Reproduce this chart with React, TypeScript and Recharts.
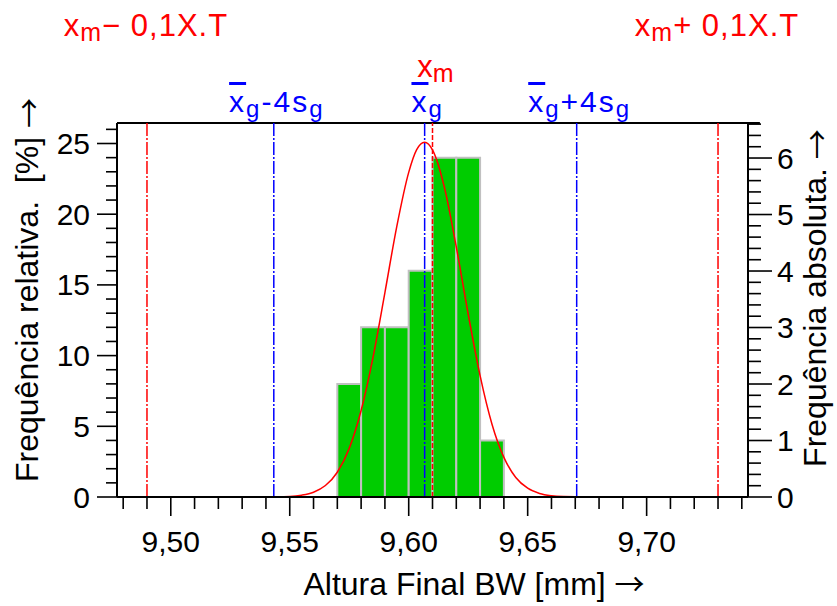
import React from 'react';
import { ComposedChart, Line, XAxis, YAxis, ReferenceArea, ReferenceLine } from 'recharts';

// ---- data ----
const binEdges = [9.57, 9.58, 9.59, 9.6, 9.61, 9.62, 9.63, 9.64];
const relFreq = [8, 12, 12, 16, 24, 24, 4]; // %
const absFreq = [2, 3, 3, 4, 6, 6, 1];

const curveX = [9.4774, 9.54, 9.55, 9.555, 9.56, 9.565, 9.57, 9.575, 9.58, 9.585, 9.59, 9.595, 9.6, 9.6033, 9.6067, 9.61, 9.615, 9.62, 9.625, 9.63, 9.635, 9.64, 9.645, 9.65, 9.655, 9.66, 9.665, 9.675, 9.7426];
const curveY = [0, 0, 0.04, 0.13, 0.34, 0.81, 1.75, 3.44, 6.12, 9.88, 14.46, 19.14, 22.96, 24.55, 25.09, 24.55, 21.9, 17.68, 12.94, 8.58, 5.15, 2.8, 1.38, 0.62, 0.25, 0.09, 0.03, 0, 0];

const xTicks = [9.48, 9.49, 9.5, 9.51, 9.52, 9.53, 9.54, 9.55, 9.56, 9.57, 9.58, 9.59, 9.6, 9.61, 9.62, 9.63, 9.64, 9.65, 9.66, 9.67, 9.68, 9.69, 9.7, 9.71, 9.72, 9.73, 9.74];
const xMajor = [9.5, 9.55, 9.6, 9.65, 9.7];
const leftTicks = [0, 1, 2, 3, 4, 5, 6, 7, 8, 9, 10, 11, 12, 13, 14, 15, 16, 17, 18, 19, 20, 21, 22, 23, 24, 25, 26];
const leftMajor = [0, 5, 10, 15, 20, 25];
const rightTicks = [0, 0.2, 0.4, 0.6, 0.8, 1, 1.2, 1.4, 1.6, 1.8, 2, 2.2, 2.4, 2.6, 2.8, 3, 3.2, 3.4, 3.6, 3.8, 4, 4.2, 4.4, 4.6, 4.8, 5, 5.2, 5.4, 5.6, 5.8, 6, 6.2, 6.4, 6.6];
const rightMajor = [0, 1, 2, 3, 4, 5, 6];

const tolLow = 9.49;
const xm = 9.61;
const tolHigh = 9.73;
const xgMinus4s = 9.5433;
const xg = 9.6067;
const xgPlus4s = 9.6706;

const X_MIN = 9.4774;
const X_MAX = 9.7426;
const Y_LEFT_MAX = 26.45;
const Y_RIGHT_MAX = 6.62;

// ---- styles ----
const FONT = '"Liberation Sans", Arial, sans-serif';
const ARROW_FONT = '"Noto Sans CJK JP", "Noto Sans CJK SC", sans-serif';
const RED = '#ff0000';
const BLUE = '#0000ff';
const GREEN = '#00cc00';
const FS = 30;
const TITLE_FS = 32;
const DASH = '13 2 2 2';

const isIn = (arr: number[], v: number) => arr.some((a) => Math.abs(a - v) < 1e-6);

const XTick = (props: any) => {
  const { x, y, payload } = props;
  const v = payload.value;
  const major = isIn(xMajor, v);
  return (
    <g>
      <line x1={x} x2={x} y1={y} y2={y + (major ? 19 : 12)} stroke="#000" strokeWidth={1.6} />
      {major && (
        <text x={x} y={y + 55} textAnchor="middle" fontSize={FS} fontFamily={FONT} fill="#000">
          {v.toFixed(2).replace('.', ',')}
        </text>
      )}
    </g>
  );
};

const LeftTick = (props: any) => {
  const { x, y, payload } = props;
  const v = payload.value;
  const major = isIn(leftMajor, v);
  return (
    <g>
      <line x1={x} x2={x - (major ? 20 : 11)} y1={y} y2={y} stroke="#000" strokeWidth={1.6} />
      {major && (
        <text x={x - 27} y={y} textAnchor="end" dominantBaseline="central" fontSize={FS} fontFamily={FONT} fill="#000">
          {String(v)}
        </text>
      )}
    </g>
  );
};

const RightTick = (props: any) => {
  const { x, y, payload } = props;
  const v = payload.value;
  const major = isIn(rightMajor, v);
  return (
    <g>
      <line x1={x} x2={x + (major ? 24 : 13)} y1={y} y2={y} stroke="#000" strokeWidth={1.6} />
      {major && (
        <text x={x + 29} y={y} textAnchor="start" dominantBaseline="central" fontSize={FS} fontFamily={FONT} fill="#000">
          {String(v)}
        </text>
      )}
    </g>
  );
};

const tolLabel = (sign: string) => (p: any) => {
  const vb = p.viewBox;
  return (
    <text x={vb.x - 1} y={vb.y - 87} textAnchor="middle" fill={RED} fontSize={31} letterSpacing={1} fontFamily={FONT}>
      <tspan>x</tspan>
      <tspan fontSize={25} dy={5}>m</tspan>
      <tspan dy={-5}>{sign + ' 0,1X.T'}</tspan>
    </text>
  );
};

const xmLabel = (p: any) => {
  const vb = p.viewBox;
  return (
    <text x={vb.x + 3} y={vb.y - 46} textAnchor="middle" fill={RED} fontSize={31} fontFamily={FONT}>
      <tspan>x</tspan>
      <tspan fontSize={25} dy={5}>m</tspan>
    </text>
  );
};

const gLabel = (mid: string) => (p: any) => {
  const vb = p.viewBox;
  return (
    <text x={vb.x + 3} y={vb.y - 11} textAnchor="middle" fill={BLUE} fontSize={30} letterSpacing={2} fontFamily={FONT}>
      <tspan style={{ textDecoration: 'overline' }}>x</tspan>
      <tspan fontSize={24} dy={5}>g</tspan>
      {mid ? <tspan dy={-5}>{mid}</tspan> : null}
      {mid ? <tspan fontSize={24} dy={5}>g</tspan> : null}
    </text>
  );
};

const curveData = curveX.map((x, i) => ({ x, pct: curveY[i] }));

export default function App() {
  return (
    <div style={{ position: 'absolute', left: 0, top: 0, width: 837, height: 606, background: '#fff' }}>
      <ComposedChart width={837} height={606} data={curveData} margin={{ top: 123, right: 29, bottom: 49, left: 17 }}>
        <XAxis
          dataKey="x"
          type="number"
          domain={[X_MIN, X_MAX]}
          allowDataOverflow
          ticks={xTicks}
          interval={0}
          tickSize={0}
          tickMargin={0}
          tickLine={false}
          tick={XTick}
          axisLine={{ stroke: '#000', strokeWidth: 2 }}
          height={60}
        />
        <YAxis
          yAxisId="left"
          orientation="left"
          type="number"
          domain={[0, Y_LEFT_MAX]}
          allowDataOverflow
          ticks={leftTicks}
          interval={0}
          tickSize={0}
          tickMargin={0}
          tickLine={false}
          tick={LeftTick}
          axisLine={{ stroke: '#000', strokeWidth: 2 }}
          width={100}
        />
        <YAxis
          yAxisId="right"
          orientation="right"
          type="number"
          domain={[0, Y_RIGHT_MAX]}
          allowDataOverflow
          ticks={rightTicks}
          interval={0}
          tickSize={0}
          tickMargin={0}
          tickLine={false}
          tick={RightTick}
          axisLine={{ stroke: '#000', strokeWidth: 2 }}
          width={60}
        />
        {relFreq.map((v, i) => (
          <ReferenceArea
            key={'bin' + i}
            yAxisId="left"
            x1={binEdges[i]}
            x2={binEdges[i + 1]}
            y1={0}
            y2={v}
            fill={GREEN}
            fillOpacity={1}
            stroke="#c0c0c0"
            strokeWidth={2}
            ifOverflow="visible"
          />
        ))}
        <ReferenceLine
          yAxisId="left"
          segment={[{ x: X_MIN, y: Y_LEFT_MAX }, { x: X_MAX + 0.005, y: Y_LEFT_MAX }]}
          stroke="#000"
          strokeWidth={2}
          ifOverflow="visible"
        />
        <ReferenceLine yAxisId="left" x={tolLow} stroke={RED} strokeWidth={1.5} strokeDasharray={DASH} label={tolLabel('−')} />
        <ReferenceLine yAxisId="left" x={tolHigh} stroke={RED} strokeWidth={1.5} strokeDasharray={DASH} label={tolLabel('+')} />
        <ReferenceLine yAxisId="left" x={xgMinus4s} stroke={BLUE} strokeWidth={1.5} strokeDasharray={DASH} label={gLabel('-4s')} />
        <ReferenceLine yAxisId="left" x={xgPlus4s} stroke={BLUE} strokeWidth={1.5} strokeDasharray={DASH} label={gLabel('+4s')} />
        <ReferenceLine yAxisId="left" x={xg} stroke={BLUE} strokeWidth={1.5} strokeDasharray={DASH} label={gLabel('')} />
        <ReferenceLine yAxisId="left" x={xm} stroke={RED} strokeWidth={1.5} strokeDasharray="5 2" label={xmLabel} />
        <Line
          yAxisId="left"
          dataKey="pct"
          type="monotone"
          stroke={RED}
          strokeWidth={1.5}
          dot={false}
          activeDot={false}
          isAnimationActive={false}
        />
        <text x={27} y={290} transform="rotate(-90 27 290)" textAnchor="middle" dominantBaseline="central" fontSize={TITLE_FS} fontFamily={FONT} fill="#000">
          {'Frequência relativa.\u00a0\u00a0[%]\u00a0'}
          <tspan fontFamily={ARROW_FONT} fontSize={30}>→</tspan>
        </text>
        <text x={815} y={298} transform="rotate(-90 815 298)" textAnchor="middle" dominantBaseline="central" fontSize={TITLE_FS} fontFamily={FONT} fill="#000">
          {'Frequência absoluta.\u00a0'}
          <tspan fontFamily={ARROW_FONT} fontSize={30}>→</tspan>
        </text>
        <text x={474} y={595} textAnchor="middle" fontSize={32} fontFamily={FONT} fill="#000">
          {'Altura Final BW [mm]\u00a0'}
          <tspan fontFamily={ARROW_FONT} fontSize={30}>→</tspan>
        </text>
      </ComposedChart>
    </div>
  );
}
